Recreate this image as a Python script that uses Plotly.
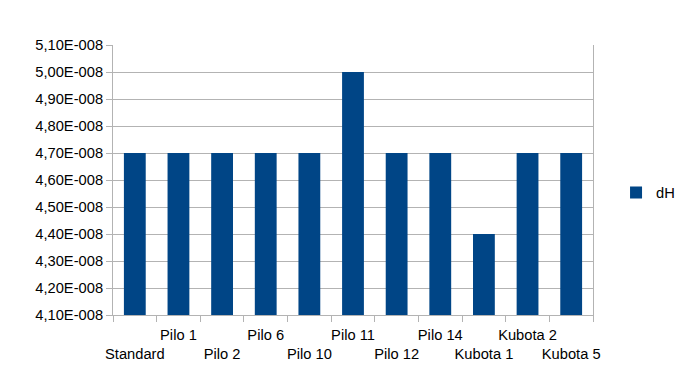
import plotly.graph_objects as go

categories = ["Standard", "Pilo 1", "Pilo 2", "Pilo 6", "Pilo 10", "Pilo 11",
              "Pilo 12", "Pilo 14", "Kubota 1", "Kubota 2", "Kubota 5"]
dH = [4.7e-8, 4.7e-8, 4.7e-8, 4.7e-8, 4.7e-8, 5.0e-8,
      4.7e-8, 4.7e-8, 4.4e-8, 4.7e-8, 4.7e-8]
y_ticks = [4.1e-8, 4.2e-8, 4.3e-8, 4.4e-8, 4.5e-8, 4.6e-8,
           4.7e-8, 4.8e-8, 4.9e-8, 5.0e-8, 5.1e-8]
y_ticktext = ["4,10E-008", "4,20E-008", "4,30E-008", "4,40E-008", "4,50E-008",
              "4,60E-008", "4,70E-008", "4,80E-008", "4,90E-008", "5,00E-008",
              "5,10E-008"]

x_ticktext = [("<br>" + c) if i % 2 == 0 else c for i, c in enumerate(categories)]

font = dict(family="Liberation Sans, Arial, sans-serif", size=14.7, color="#000000")

fig = go.Figure()
fig.add_trace(go.Bar(x=categories, y=dH, name="dH", marker_color="#004586",
                     marker_line_width=0, width=0.5))

fig.update_layout(
    width=681, height=385,
    margin=dict(l=113, r=88, t=45, b=70, autoexpand=False),
    paper_bgcolor="white", plot_bgcolor="white",
    font=font,
    showlegend=True,
    legend=dict(x=1.048, y=0.452, xanchor="left", yanchor="middle",
                font=font, bgcolor="rgba(0,0,0,0)", itemwidth=30),
    bargap=0.5,
)
fig.update_xaxes(
    type="category", tickmode="array", tickvals=categories, ticktext=x_ticktext,
    tickson="boundaries", ticks="outside", ticklen=6, tickcolor="#b3b3b3",
    showline=True, linecolor="#b3b3b3", linewidth=1, showgrid=False,
    tickangle=0, tickfont=font, automargin=False, ticklabelstandoff=6,
)
fig.update_yaxes(
    range=[4.1e-8, 5.1e-8], tickmode="array", tickvals=y_ticks, ticktext=y_ticktext,
    ticks="outside", ticklen=6, tickcolor="#b3b3b3",
    showline=True, linecolor="#b3b3b3", linewidth=1, mirror=True,
    showgrid=True, gridcolor="#b3b3b3", gridwidth=1, zeroline=False,
    tickfont=font, automargin=False,
)

fig.write_html("out.html",
               config={"displayModeBar": False},
               post_script="document.body.style.margin='0';document.body.style.overflow='hidden';")
